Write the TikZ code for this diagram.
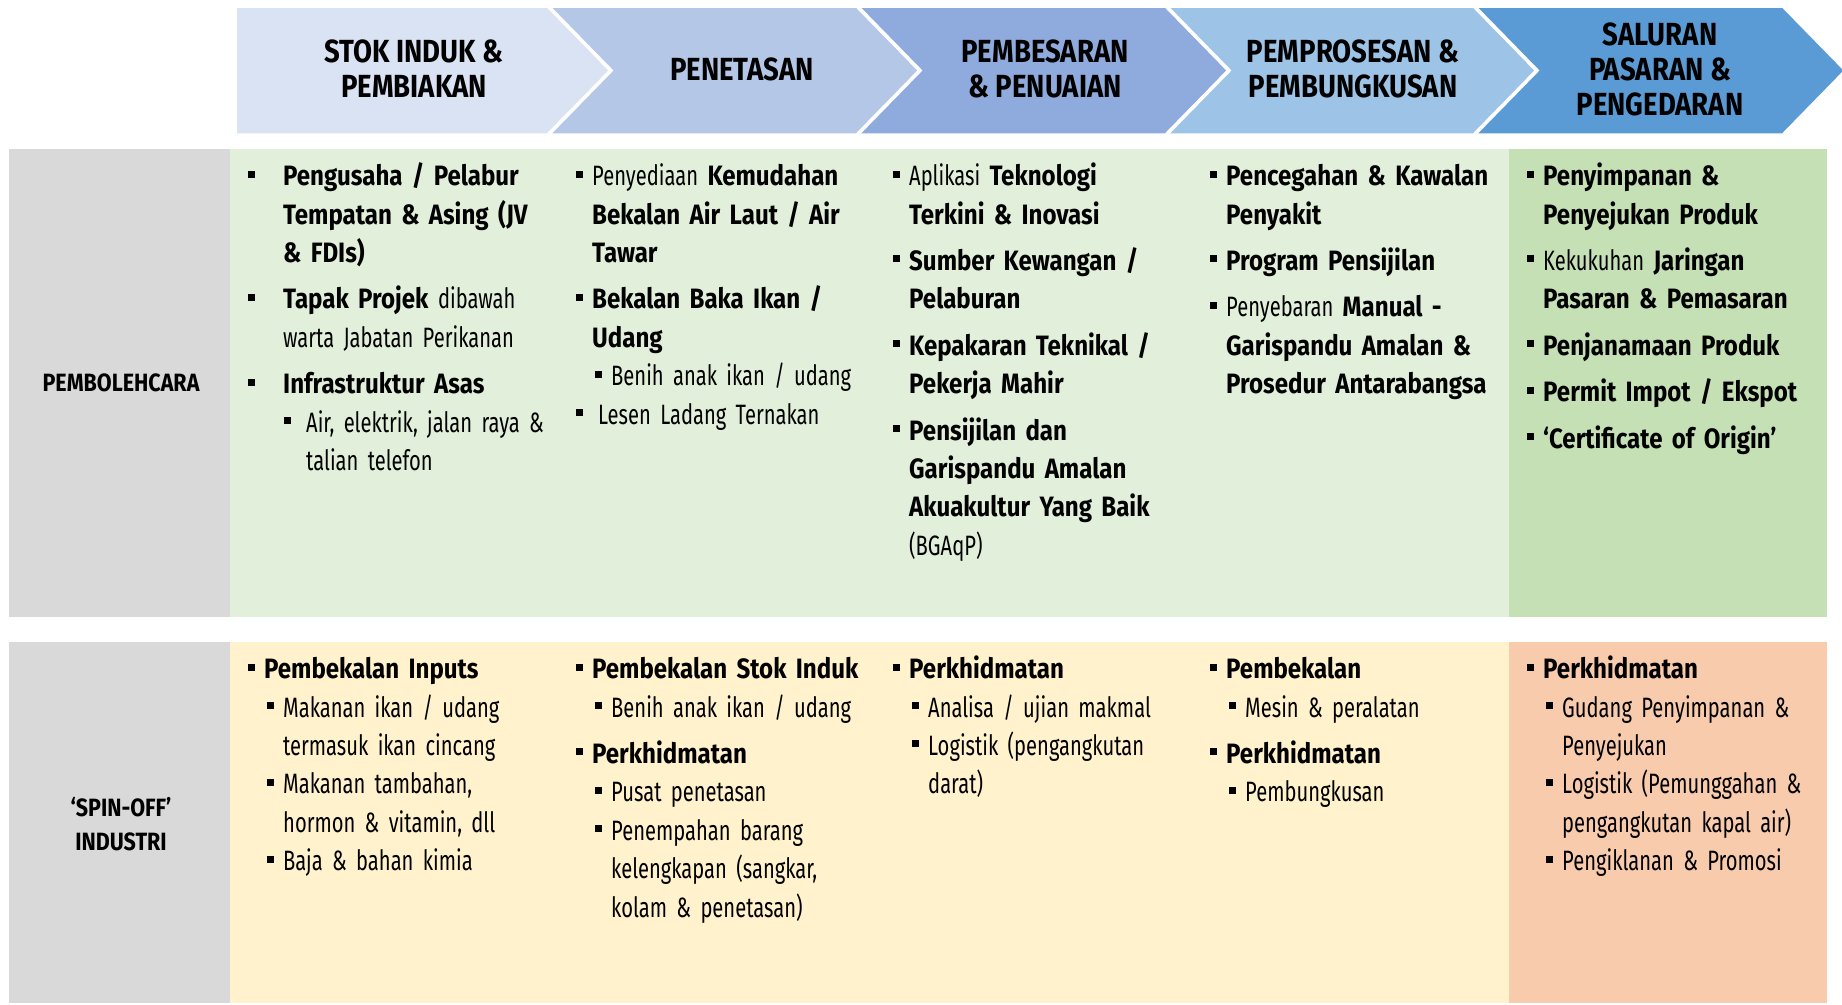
\documentclass[tikz,border=0pt]{standalone}
\usepackage{fontspec}
\setmainfont{Fira Sans}[UprightFeatures={FakeStretch=0.72},BoldFeatures={FakeStretch=0.86}]

\definecolor{chA}{HTML}{DAE3F3}
\definecolor{chB}{HTML}{B4C7E7}
\definecolor{chC}{HTML}{8FAADC}
\definecolor{chD}{HTML}{9DC3E6}
\definecolor{chE}{HTML}{5B9BD5}
\definecolor{lblgray}{HTML}{D9D9D9}
\definecolor{grnA}{HTML}{E2EFDA}
\definecolor{grnB}{HTML}{C5E0B4}
\definecolor{ylwA}{HTML}{FFF2CC}
\definecolor{pchA}{HTML}{F8CBAD}

% square bullet and list lines
\newcommand{\sq}{\rule[8pt]{7pt}{7pt}}
\newcommand{\bul}[4]{\par\vspace{#1}\leftskip=#3\noindent\llap{\makebox[\dimexpr#3-#2\relax][l]{\sq}}\strut#4}
\newcommand{\itmA}[1]{\bul{0pt}{0pt}{16pt}{#1}}
\newcommand{\itm}[1]{\bul{8pt}{0pt}{16pt}{#1}}
\newcommand{\subitm}[1]{\bul{0pt}{19pt}{35pt}{#1}}

\tikzset{
  hdr/.style={align=center, inner sep=0pt, font=\bfseries\fontsize{32}{35}\selectfont},
  lbl/.style={align=center, inner sep=0pt, font=\bfseries\fontsize{25}{34}\selectfont},
  col/.style={anchor=north west, inner sep=0pt, text width=310pt, align=left,
              font=\fontsize{28}{38.4}\selectfont}
}

\begin{document}
\begin{tikzpicture}[x=1pt,y=-1pt]
\useasboundingbox (0,0) rectangle (1842,1004);

% chevrons
\foreach \a/\b/\c [count=\i] in {235/548/chA,548/857/chB,857/1166/chC,1166/1474/chD,1474/1783/chE}{
  \ifnum\i=1 \def\nt{0}\else\def\nt{63}\fi
  \filldraw[fill=\c, draw=white, line width=3.5pt, line join=miter]
    (\a,6) -- (\b,6) -- ({\b+63},70.5) -- (\b,135) -- (\a,135) -- ({\a+\nt},70.5) -- cycle;
}

\node[hdr] (h1) at (414,69) {STOK INDUK \&\\PEMBIAKAN};
\node[hdr] (h2) at (742,69) {PENETASAN};
\node[hdr] (h3) at (1045,69) {PEMBESARAN\\\& PENUAIAN};
\node[hdr] (h4) at (1353,69) {PEMPROSESAN \&\\PEMBUNGKUSAN};
\node[hdr] (h5) at (1660,69) {SALURAN\\PASARAN \&\\PENGEDARAN};

% rows
\fill[lblgray] (9,149) rectangle (230,617);
\fill[grnA] (230,149) rectangle (1509,617);
\fill[grnB] (1509,149) rectangle (1827,617);
\fill[lblgray] (9,642) rectangle (230,1003);
\fill[ylwA] (230,642) rectangle (1509,1003);
\fill[pchA] (1509,642) rectangle (1827,1003);

\node[lbl] (l1) at (121,383) {PEMBOLEHCARA};
\node[lbl] (l2) at (121,824) {‘SPIN-OFF’\\INDUSTRI};

% PEMBOLEHCARA
\node[col] (p1) at (248,147) {
  \bul{0pt}{0pt}{35pt}{\textbf{Pengusaha / Pelabur\\Tempatan \& Asing (JV\\\& FDIs)}}
  \bul{8pt}{0pt}{35pt}{\textbf{Tapak Projek} dibawah\\warta Jabatan Perikanan}
  \bul{8pt}{0pt}{35pt}{\textbf{Infrastruktur Asas}}
  \bul{0pt}{36pt}{58pt}{Air, elektrik, jalan raya \&\\talian telefon}\par
};
\node[col] (p2) at (576,147) {
  \itmA{Penyediaan \textbf{Kemudahan\\Bekalan Air Laut / Air\\Tawar}}
  \itm{\textbf{Bekalan Baka Ikan /\\Udang}}
  \subitm{Benih anak ikan / udang}
  \itmA{\hspace*{6pt}Lesen Ladang Ternakan}\par
};
\node[col] (p3) at (893,147) {
  \itmA{Aplikasi \textbf{Teknologi\\Terkini \& Inovasi}}
  \itm{\textbf{Sumber Kewangan /\\Pelaburan}}
  \itm{\textbf{Kepakaran Teknikal /\\Pekerja Mahir}}
  \itm{\textbf{Pensijilan dan\\Garispandu Amalan\\Akuakultur Yang Baik}\\(BGAqP)}\par
};
\node[col] (p4) at (1210,147) {
  \itmA{\textbf{Pencegahan \& Kawalan\\Penyakit}}
  \itm{\textbf{Program Pensijilan}}
  \itm{Penyebaran \textbf{Manual -\\Garispandu Amalan \&\\Prosedur Antarabangsa}}\par
};
\node[col] (p5) at (1527,147) {
  \itmA{\textbf{Penyimpanan \&\\Penyejukan Produk}}
  \itm{Kekukuhan \textbf{Jaringan\\Pasaran \& Pemasaran}}
  \itm{\textbf{Penjanamaan Produk}}
  \itm{\textbf{Permit Impot / Ekspot}}
  \itm{\textbf{‘Certificate of Origin’}}\par
};

% SPIN-OFF INDUSTRI
\node[col] (s1) at (248,640) {
  \itmA{\textbf{Pembekalan Inputs}}
  \subitm{Makanan ikan / udang\\termasuk ikan cincang}
  \subitm{Makanan tambahan,\\hormon \& vitamin, dll}
  \subitm{Baja \& bahan kimia}\par
};
\node[col] (s2) at (576,640) {
  \itmA{\textbf{Pembekalan Stok Induk}}
  \subitm{Benih anak ikan / udang}
  \itm{\textbf{Perkhidmatan}}
  \subitm{Pusat penetasan}
  \subitm{Penempahan barang\\kelengkapan (sangkar,\\kolam \& penetasan)}\par
};
\node[col] (s3) at (893,640) {
  \itmA{\textbf{Perkhidmatan}}
  \subitm{Analisa / ujian makmal}
  \subitm{Logistik (pengangkutan\\darat)}\par
};
\node[col] (s4) at (1210,640) {
  \itmA{\textbf{Pembekalan}}
  \subitm{Mesin \& peralatan}
  \itm{\textbf{Perkhidmatan}}
  \subitm{Pembungkusan}\par
};
\node[col] (s5) at (1527,640) {
  \itmA{\textbf{Perkhidmatan}}
  \subitm{Gudang Penyimpanan \&\\Penyejukan}
  \subitm{Logistik (Pemunggahan \&\\pengangkutan kapal air)}
  \subitm{Pengiklanan \& Promosi}\par
};
\end{tikzpicture}
\end{document}
